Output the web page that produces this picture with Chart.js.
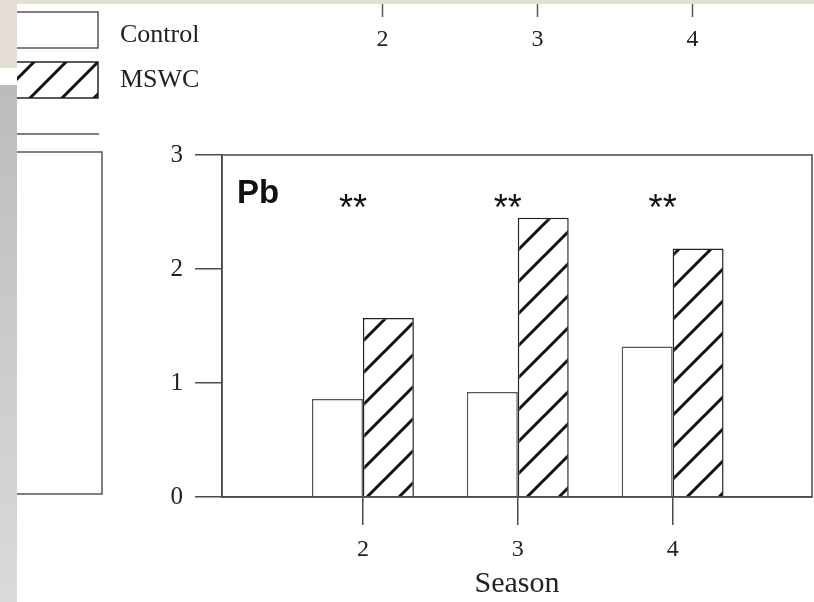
<!DOCTYPE html>
<html>
<head>
<meta charset="utf-8">
<script src="https://cdn.jsdelivr.net/npm/chart.js@4.4.1/dist/chart.umd.min.js"></script>
<style>
  html, body { margin: 0; padding: 0; background: #fff; }
  canvas { display: block; }
</style>
</head>
<body>
<canvas id="pbChart" width="814" height="602"></canvas>
<script>
// Pb content by season, control vs. MSWC-amended plots
const seasons = [2, 3, 4];
const controlPb = [0.86, 0.92, 1.32];
const mswcPb = [1.57, 2.45, 2.18];
const significance = ['**', '**', '**'];
const yTicks = [0, 1, 2, 3];
const seriesNames = ['Control', 'MSWC'];
const panelLabel = 'Pb';
const xTitle = 'Season';

const SERIF = "'Liberation Serif', 'Times New Roman', serif";
const SANS = "'Liberation Sans', Arial, sans-serif";
const AXIS_COLOR = '#4a4a4a';

// diagonal "/" hatch used for the MSWC bars
function makeHatch(size, width) {
  const c = document.createElement('canvas');
  c.width = size;
  c.height = size;
  const g = c.getContext('2d');
  g.fillStyle = '#fff';
  g.fillRect(0, 0, size, size);
  g.strokeStyle = '#111';
  g.lineWidth = width;
  g.beginPath();
  g.moveTo(0, size); g.lineTo(size, 0);
  g.moveTo(-size / 2, size / 2); g.lineTo(size / 2, -size / 2);
  g.moveTo(size / 2, size * 1.5); g.lineTo(size * 1.5, size / 2);
  g.stroke();
  return g.createPattern(c, 'repeat');
}

const hatch = makeHatch(32, 3);

const panelPlugin = {
  id: 'panel',
  beforeDraw(chart) {
    const { ctx, width, height } = chart;
    const x = chart.scales.x;
    ctx.save();
    ctx.fillStyle = '#fff';
    ctx.fillRect(0, 0, width, height);

    // bits of the neighbouring panels that show in the crop
    ctx.strokeStyle = '#555';
    ctx.lineWidth = 1.5;
    ctx.beginPath();
    ctx.moveTo(17, 134); ctx.lineTo(99, 134);
    ctx.moveTo(17, 152); ctx.lineTo(102, 152); ctx.lineTo(102, 494); ctx.lineTo(17, 494);
    ctx.stroke();

    ctx.fillStyle = '#222';
    ctx.font = '24px ' + SERIF;
    ctx.textAlign = 'center';
    ctx.textBaseline = 'middle';
    seasons.forEach(s => {
      const px = Math.round(x.getPixelForValue(s)) + 19.5;
      ctx.beginPath();
      ctx.moveTo(px, 4); ctx.lineTo(px, 17);
      ctx.stroke();
      ctx.fillText(String(s), px, 40);
    });

    // legend
    const ds = chart.data.datasets;
    ds.forEach((d, i) => {
      const top = i === 0 ? 12 : 62;
      ctx.fillStyle = d.backgroundColor;
      ctx.fillRect(17, top, 81, 36);
      ctx.strokeStyle = d.borderColor;
      ctx.lineWidth = 1.5;
      ctx.beginPath();
      ctx.moveTo(17, top); ctx.lineTo(98, top); ctx.lineTo(98, top + 36); ctx.lineTo(17, top + 36);
      ctx.stroke();
      ctx.fillStyle = '#222';
      ctx.font = '26px ' + SERIF;
      ctx.textAlign = 'left';
      ctx.fillText(d.label, 120, i === 0 ? 35 : 80);
    });

    // page background strips
    ctx.fillStyle = '#e3ddd3';
    ctx.fillRect(0, 0, width, 4);
    ctx.fillRect(0, 0, 17, 68);
    const grad = ctx.createLinearGradient(0, 85, 0, height);
    grad.addColorStop(0, '#bcbcbc');
    grad.addColorStop(1, '#dadada');
    ctx.fillStyle = grad;
    ctx.fillRect(0, 85, 17, height - 85);
    ctx.restore();
  },
  afterDatasetsDraw(chart) {
    const { ctx, chartArea: a } = chart;
    const x = chart.scales.x, y = chart.scales.y;
    ctx.save();
    ctx.strokeStyle = AXIS_COLOR;
    ctx.lineWidth = 1.5;
    ctx.strokeRect(a.left, a.top, a.right - a.left, a.bottom - a.top);

    ctx.fillStyle = '#111';
    ctx.font = 'bold 33px ' + SANS;
    ctx.textAlign = 'left';
    ctx.textBaseline = 'alphabetic';
    ctx.fillText(panelLabel, a.left + 15, a.top + 48);

    ctx.font = '36px ' + SANS;
    ctx.textAlign = 'center';
    significance.forEach((t, i) => {
      const px = x.getPixelForValue(seasons[i]) - 10;
      ctx.fillText(t, px, y.getPixelForValue(2.61) + 21);
    });
    ctx.restore();
  }
};

new Chart(document.getElementById('pbChart'), {
  type: 'bar',
  data: {
    datasets: [
      {
        label: seriesNames[0],
        data: seasons.map((s, i) => ({ x: s, y: controlPb[i] })),
        backgroundColor: '#ffffff',
        borderColor: '#555',
        borderWidth: 1.5
      },
      {
        label: seriesNames[1],
        data: seasons.map((s, i) => ({ x: s, y: mswcPb[i] })),
        backgroundColor: hatch,
        borderColor: '#222',
        borderWidth: 1.5
      }
    ]
  },
  options: {
    responsive: false,
    animation: false,
    events: [],
    categoryPercentage: 0.658,
    barPercentage: 1,
    layout: { padding: { left: 0, top: 155, right: 2, bottom: 0 } },
    plugins: {
      legend: { display: false },
      tooltip: { enabled: false }
    },
    scales: {
      x: {
        type: 'linear',
        min: 1.09,
        max: 4.9,
        offset: false,
        afterBuildTicks: s => { s.ticks = seasons.map(v => ({ value: v })); },
        afterFit: s => { s.height = 105; },
        grid: {
          offset: false,
          drawOnChartArea: false,
          drawTicks: true,
          tickLength: 28,
          color: AXIS_COLOR,
          lineWidth: 1.5
        },
        border: { color: AXIS_COLOR, width: 1.5 },
        ticks: {
          color: '#222',
          font: { family: SERIF, size: 24 },
          padding: 10,
          maxRotation: 0,
          callback: v => String(v)
        },
        title: {
          display: true,
          text: xTitle,
          color: '#222',
          font: { family: SERIF, size: 30 },
          padding: { top: -3, bottom: 0 }
        }
      },
      y: {
        min: 0,
        max: 3,
        afterBuildTicks: s => { s.ticks = yTicks.map(v => ({ value: v })); },
        afterFit: s => { s.width = 222; },
        grid: {
          drawOnChartArea: false,
          drawTicks: true,
          tickLength: 27,
          color: AXIS_COLOR,
          lineWidth: 1.5
        },
        border: { color: AXIS_COLOR, width: 1.5 },
        ticks: {
          color: '#222',
          font: { family: SERIF, size: 25 },
          padding: 12,
          callback: v => String(v)
        }
      }
    }
  },
  plugins: [panelPlugin]
});
</script>
</body>
</html>
